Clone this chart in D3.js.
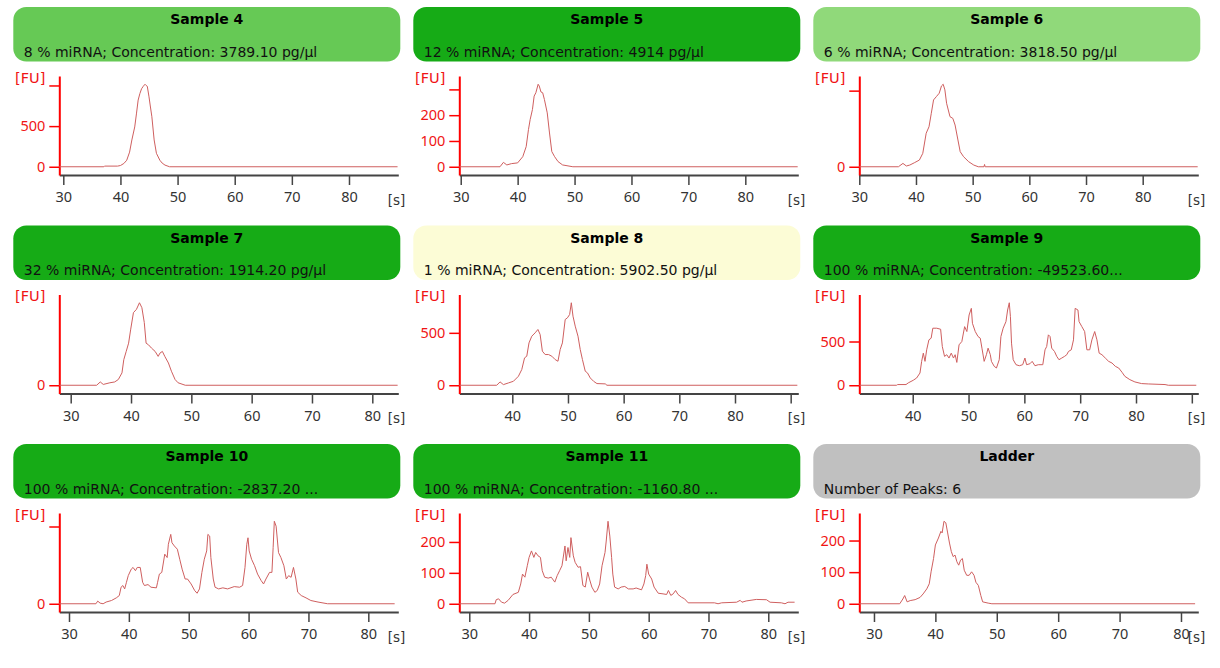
<!DOCTYPE html>
<html>
<head>
<meta charset="utf-8">
<script src="https://cdn.jsdelivr.net/npm/d3@7"></script>
<style>
  body { margin: 0; background: #fff; }
  svg text { font-family: "DejaVu Sans", Verdana, sans-serif; }
  svg .tick text { font-family: "Noto Sans", "DejaVu Sans", sans-serif; }
</style>
</head>
<body>
<svg id="chart" width="1220" height="668"></svg>
<script>
const samples = ['Sample 4', 'Sample 5', 'Sample 6', 'Sample 7', 'Sample 8', 'Sample 9', 'Sample 10', 'Sample 11', 'Ladder']

const headerColors = ['#66c955', '#16ab16', '#90d97a', '#16ab16', '#fcfcd6', '#16ab16', '#16ab16', '#16ab16', '#c0c0c0']

const subtitles = [
  '8 % miRNA; Concentration: 3789.10 pg/µl',
  '12 % miRNA; Concentration: 4914 pg/µl',
  '6 % miRNA; Concentration: 3818.50 pg/µl',
  '32 % miRNA; Concentration: 1914.20 pg/µl',
  '1 % miRNA; Concentration: 5902.50 pg/µl',
  '100 % miRNA; Concentration: -49523.60...',
  '100 % miRNA; Concentration: -2837.20 ...',
  '100 % miRNA; Concentration: -1160.80 ...',
  'Number of Peaks: 6'
]

// run window of each sample [s]
const timeRanges = [
  [29.3, 88.63], [29.75, 89.31], [30, 89.81],
  [28.11, 84.31], [30.48, 91.37], [30.43, 91.16],
  [28.38, 85.01], [28.33, 85.02], [27.61, 82.82]
]

// FU ticks of each sample
const yTicks = [
  [0, 500, 1000], [0, 100, 200, 300], [0, 500],
  [0], [0, 500], [0, 500],
  [0, 500], [0, 100, 200], [0, 100, 200]
]

// traces: [time s, FU]
const sample4 = [[29.3,0],[37.1,0],[37.2,8],[39.5,8],[40,15],[40.6,40],[41.1,80],[41.6,180],[42,330],[42.5,490],[42.8,650],[43.1,820],[43.4,900],[43.7,960],[44,990],[44.3,1015],[44.5,1000],[44.7,990],[45,860],[45.2,760],[45.5,615],[45.9,330],[46.3,165],[46.9,80],[47.3,45],[47.8,20],[48.6,0],[88.5,0]]

const sample5 = [[29.75,0],[36.9,0],[37.5,17],[38.1,7],[38.9,12],[40,15],[40.9,39],[41.5,78],[41.9,144],[42.2,183],[42.6,222],[42.9,274],[43.2,287],[43.6,320],[43.8,313],[44.1,290],[44.4,287],[44.7,261],[45.2,209],[45.6,131],[46,59],[46.5,39],[47.1,20],[47.9,7],[49.7,0],[89.2,0]]

const sample6 = [[30,0],[36.9,0],[37.7,22],[38.3,5],[38.9,11],[39.7,26],[40.6,44],[41.2,88],[41.8,220],[42.3,263],[42.7,351],[43.1,439],[43.6,461],[44.1,483],[44.5,531],[44.8,542],[45.1,505],[45.4,417],[46,329],[46.5,318],[46.9,274],[47.4,176],[47.8,99],[48.4,66],[49.3,33],[50.2,11],[51,0],[52,0],[52.1,15],[52.2,0],[89.7,0]]

const sample7 = [[28.11,0],[34.3,0],[34.9,4],[35.4,1],[36.5,3],[37.3,4],[37.9,7],[38.5,15],[38.8,31],[39.2,41],[39.6,51],[39.95,68],[40.4,88],[40.9,92],[41.4,100],[41.8,94],[42.2,76],[42.5,51],[42.9,49],[43.4,45],[44,41],[44.5,35],[44.8,39],[45.2,41],[45.6,35],[46.2,27],[46.7,17],[47.3,7],[47.8,3],[49,0],[84.2,0]]

const sample8 = [[30.48,0],[37.2,0],[37.8,32],[38.4,6],[39.3,22],[40.2,38],[41.1,86],[41.7,150],[42.2,261],[42.6,277],[43,404],[43.5,468],[44.1,500],[44.6,532],[45,484],[45.4,325],[45.9,293],[46.5,293],[47.1,277],[47.7,245],[48.2,229],[48.6,341],[49,404],[49.5,627],[49.9,643],[50.3,675],[50.6,787],[50.9,659],[51.3,564],[51.8,468],[52.2,341],[52.6,245],[53.1,134],[53.5,118],[54,70],[54.6,38],[55.2,16],[56.7,13],[57,0],[91.2,0]]

const sample9 = [[30.43,0],[37.1,0],[37.3,8],[38.8,8],[39.2,27],[40.1,57],[40.7,83],[41.3,140],[41.6,273],[41.9,367],[42.2,273],[42.5,405],[42.9,519],[43.3,538],[43.6,652],[44.3,652],[45,640],[45.3,443],[45.7,330],[46.1,349],[46.5,311],[46.9,367],[47.3,311],[47.6,349],[47.9,261],[48.3,462],[48.8,500],[49.3,670],[49.7,614],[50.1,803],[50.5,879],[50.7,708],[51.2,614],[51.7,557],[52.1,538],[52.4,424],[52.8,273],[53.2,349],[53.5,424],[53.9,349],[54.1,273],[54.6,216],[55,197],[55.5,292],[55.8,557],[56.2,652],[56.7,727],[57,860],[57.3,943],[57.5,784],[57.7,481],[58,292],[58.5,235],[59.1,223],[59.7,235],[60.1,311],[60.4,235],[61,246],[61.4,273],[61.9,223],[62.5,235],[63.3,235],[63.7,405],[64,443],[64.3,576],[64.6,557],[64.9,424],[65.4,386],[65.8,330],[66.2,292],[66.7,311],[67.2,330],[67.6,349],[67.9,386],[68.4,405],[68.8,519],[69.1,879],[69.6,860],[69.8,727],[70.3,670],[70.8,614],[71.2,405],[71.7,405],[72.1,519],[72.6,614],[73,519],[73.4,367],[73.9,349],[74.5,311],[75.1,273],[75.7,254],[76.3,216],[76.9,197],[77.5,148],[78,102],[78.9,64],[79.8,38],[81,19],[82.2,15],[85.2,8],[85.8,0],[90.8,0]]

const sample10 = [[28.38,0],[34.5,0],[34.8,17],[35.2,4],[35.7,0],[36.2,11],[37.1,21],[37.9,38],[38.4,53],[38.7,107],[39,118],[39.3,96],[39.6,139],[39.9,182],[40.4,224],[40.7,235],[41.1,214],[41.4,235],[41.9,235],[42.3,139],[42.6,118],[43.2,124],[43.7,107],[44.6,103],[44.8,139],[45.1,192],[45.5,203],[46,321],[46.4,299],[46.6,385],[47,449],[47.2,395],[47.6,374],[48.1,353],[48.5,288],[48.9,224],[49.4,160],[49.8,160],[50.4,128],[51,85],[51.4,68],[51.8,96],[52.2,203],[52.6,288],[53,342],[53.2,449],[53.5,438],[53.7,299],[54.1,160],[54.4,107],[55,96],[55.7,103],[56.5,96],[57.6,111],[58.5,107],[59,118],[59.4,235],[59.7,385],[59.9,427],[60.1,342],[60.5,288],[61,246],[61.5,192],[62.1,150],[62.5,128],[62.9,160],[63.5,203],[63.9,203],[64.1,363],[64.3,534],[64.6,502],[65,331],[65.4,299],[65.9,246],[66.3,160],[66.7,182],[67.1,171],[67.5,235],[67.9,160],[68.2,75],[68.8,53],[69.6,38],[70.4,21],[71.6,11],[73.2,0],[84.4,0]]

const sample11 = [[28.33,0],[34.3,0],[34.5,13],[34.9,16],[35.4,5],[35.9,2],[36.5,11],[37.3,30],[38.2,37],[38.6,64],[38.9,96],[39.3,86],[39.7,123],[40,150],[40.4,171],[40.8,150],[41.1,166],[41.5,155],[41.9,150],[42.2,107],[42.6,86],[43.2,83],[43.7,86],[44.3,70],[44.7,91],[45.1,107],[45.5,123],[46,187],[46.2,139],[46.5,182],[46.8,150],[47,214],[47.4,155],[47.7,134],[48.2,118],[48.6,120],[49,59],[49.4,54],[49.8,102],[50.1,80],[50.5,54],[51,37],[51.4,43],[51.8,64],[52.2,123],[52.7,166],[52.9,203],[53.2,267],[53.5,219],[53.8,150],[54,96],[54.3,54],[54.9,48],[55.4,54],[56,56],[56.6,48],[57.4,48],[57.9,51],[58.8,45],[59.2,64],[59.5,91],[59.7,128],[60,96],[60.5,80],[60.9,54],[61.6,34],[62.4,32],[63,30],[63.3,43],[63.7,27],[64.1,32],[64.5,43],[64.9,30],[65.5,21],[66,16],[66.6,3],[71,3],[71.6,0],[72.2,3],[74.7,5],[75.3,11],[75.6,5],[76.3,9],[78,14],[79.7,13],[80.3,5],[82.2,3],[82.8,0],[83.3,5],[84.4,5]]

const ladder = [[27.61,0],[34.2,0],[34.7,15],[35,26],[35.4,6],[35.9,10],[36.7,13],[37.5,20],[38,31],[38.6,47],[39,63],[39.3,101],[39.7,143],[40,186],[40.5,208],[40.9,229],[41.1,224],[41.4,261],[41.7,256],[42,224],[42.3,192],[42.6,165],[42.9,149],[43.2,154],[43.5,133],[43.8,122],[44.1,138],[44.4,143],[44.7,106],[45.1,90],[45.5,90],[45.9,101],[46.3,90],[46.6,68],[47,58],[47.4,26],[47.7,6],[48.6,2],[49.2,0],[82.3,0]]

const traces = [sample4, sample5, sample6, sample7, sample8, sample9, sample10, sample11, ladder]

const BOX_W = 387
const BOX_H = 54.5
const colX = [13.3, 413.3, 813.3]
const rowY = [7, 225.5, 444]
const AXIS_RED = '#ff0000'

const svg = d3.select('#chart')

samples.forEach((name, i) => {
  const g = svg.append('g')
    .attr('transform', `translate(${colX[i % 3]}, ${rowY[Math.floor(i / 3)]})`)
  drawHeader(g, name, headerColors[i], subtitles[i])
  drawPlot(g, traces[i], timeRanges[i], yTicks[i])
})

function drawHeader(g, name, color, subtitle) {
  g.append('rect')
    .attr('width', BOX_W)
    .attr('height', BOX_H)
    .attr('rx', 13)
    .attr('fill', color)
  g.append('text')
    .text(name)
    .attr('x', BOX_W / 2)
    .attr('y', 17)
    .attr('text-anchor', 'middle')
    .attr('font-weight', 'bold')
    .attr('font-size', 14)
    .attr('fill', '#000')
  g.append('text')
    .text(subtitle)
    .attr('x', 10.5)
    .attr('y', 49.5)
    .attr('font-size', 14)
    .attr('fill', '#111')
}

function drawPlot(g, data, range, ticks) {
  const left = 46, right = 385, top = 69, bottom = 168
  const x = d3.scaleLinear().domain(range).range([left, right])
  const ymax = d3.max(data, d => d[1])
  const y = d3.scaleLinear().domain([-0.1 * ymax, 1.1 * ymax]).range([bottom, top])

  // x axis
  const xg = g.append('g')
    .attr('transform', `translate(0, ${bottom})`)
    .call(d3.axisBottom(x).ticks(6).tickSize(10).tickSizeOuter(0).tickPadding(7))
  xg.select('.domain').attr('stroke', '#444').attr('stroke-width', 2)
  xg.selectAll('.tick line').attr('stroke', '#444').attr('stroke-width', 1.5)
  xg.selectAll('.tick text')
    .attr('font-size', 14.5)
    .attr('font-family', null)
    .attr('fill', '#333')
    .style('display', d => (x(d) > right - 12 ? 'none' : null))
  g.append('text')
    .text('[s]')
    .attr('x', right + 7)
    .attr('y', bottom + 29.5)
    .attr('text-anchor', 'end')
    .attr('font-size', 13.5)
    .attr('fill', '#333')

  // y axis
  const yg = g.append('g')
    .attr('transform', `translate(${left}, 0)`)
    .call(d3.axisLeft(y).tickValues(ticks).tickSize(10).tickSizeOuter(0).tickPadding(4))
  yg.select('.domain').attr('stroke', AXIS_RED).attr('stroke-width', 2)
  yg.selectAll('.tick line').attr('stroke', AXIS_RED).attr('stroke-width', 1.5)
  yg.selectAll('.tick text')
    .attr('font-size', 14.5)
    .attr('font-family', null)
    .attr('fill', '#f01414')
    .style('display', d => (y(d) - top < 16 ? 'none' : null))
  g.append('text')
    .text('[FU]')
    .attr('x', left - 14)
    .attr('y', top + 6.5)
    .attr('text-anchor', 'end')
    .attr('font-size', 14.5)
    .attr('fill', '#f01414')

  const line = d3.line()
    .x(d => x(d[0]))
    .y(d => y(d[1]))
  g.append('path')
    .datum(data)
    .attr('d', line)
    .attr('fill', 'none')
    .attr('stroke', '#cf5f5f')
    .attr('stroke-width', 1)
}
</script>
</body>
</html>
